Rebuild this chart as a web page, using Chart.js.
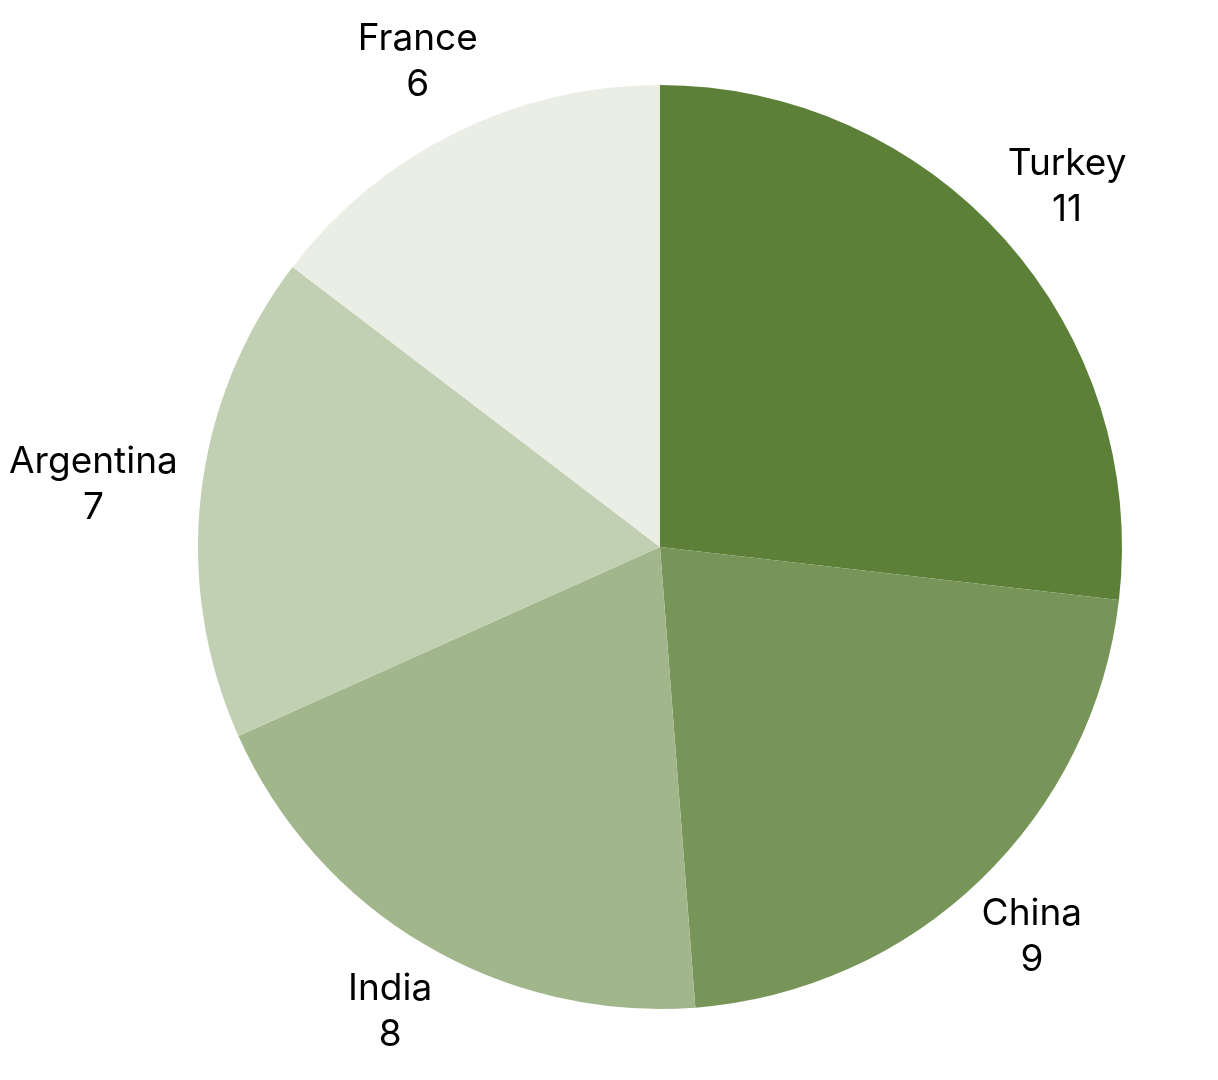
<!DOCTYPE html>
<html>
<head>
<meta charset="utf-8">
<script src="https://cdn.jsdelivr.net/npm/chart.js@4"></script>
<style>
    html, body { margin: 0; padding: 0; background: #fff; }
    #wrap { width: 1218px; height: 1080px; }
</style>
</head>
<body>
<div id="wrap"><canvas id="pieChart"></canvas></div>
<script>
const countries = ['Turkey', 'China', 'India', 'Argentina', 'France'];
const counts = [11, 9, 8, 7, 6];
const sliceColors = ['#5c8038', '#779558', '#a2b68c', '#c1cfb2', '#ebeee5'];

// draws "name / value" outside each slice, box pushed away from the edge
const outsideLabels = {
    id: 'outsideLabels',
    afterDatasetsDraw(chart) {
        const ctx = chart.ctx;
        const meta = chart.getDatasetMeta(0);
        const gap = 24, lineGap = 46, boxH = 110;
        ctx.save();
        ctx.font = '37px Inter';
        ctx.fillStyle = '#000';
        ctx.textAlign = 'center';
        ctx.textBaseline = 'middle';
        meta.data.forEach((arc, i) => {
            const p = arc.getProps(['x', 'y', 'startAngle', 'endAngle', 'outerRadius'], true);
            const mid = (p.startAngle + p.endAngle) / 2;
            const name = chart.data.labels[i];
            const value = String(chart.data.datasets[0].data[i]);
            const w = Math.max(ctx.measureText(name).width, ctx.measureText(value).width);
            const dx = Math.cos(mid), dy = Math.sin(mid);
            const x = p.x + dx * (p.outerRadius + gap) + dx * w / 2;
            const y = p.y + dy * (p.outerRadius + gap) + dy * boxH / 2;
            ctx.fillText(name, x, y - lineGap / 2);
            ctx.fillText(value, x, y + lineGap / 2);
        });
        ctx.restore();
    }
};

new Chart(document.getElementById('pieChart').getContext('2d'), {
    type: 'pie',
    data: {
        labels: countries,
        datasets: [{
            data: counts,
            backgroundColor: sliceColors,
            borderWidth: 0
        }]
    },
    options: {
        responsive: true,
        maintainAspectRatio: false,
        animation: false,
        layout: { padding: { left: 198, right: 96, top: 85, bottom: 71 } },
        plugins: {
            legend: { display: false },
            tooltip: { enabled: false }
        }
    },
    plugins: [outsideLabels]
});
</script>
</body>
</html>
